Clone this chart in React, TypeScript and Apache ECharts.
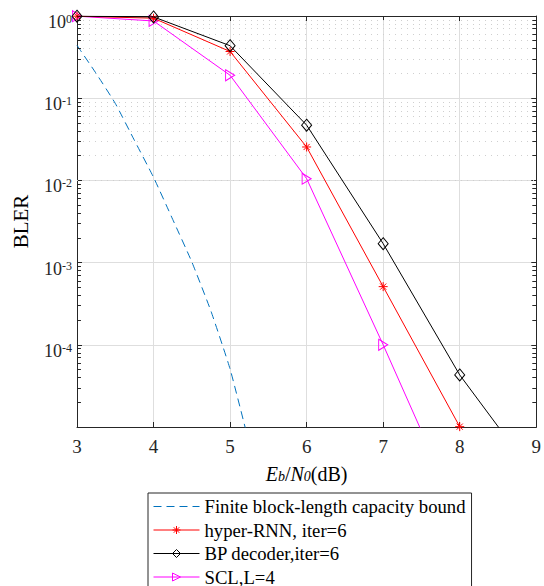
import React, { useEffect, useRef } from 'react';
import * as echarts from 'echarts';

// ---- data ----
const boundX = [3, 3.25, 3.5, 3.75, 4, 4.25, 4.5, 4.75, 5, 5.25];
const boundBler = [0.44, 0.2, 0.0865, 0.0307, 0.0109, 3.36e-3, 1.02e-3, 2.57e-4, 5.07e-5, 6.3e-6];
const rnnX = [3, 4, 5, 6, 7, 8];
const rnnBler = [0.995, 0.94, 0.37, 0.0255, 5.1e-4, 1.01e-5];
const bpX = [3, 4, 5, 6, 7, 8, 9];
const bpBler = [0.995, 0.975, 0.435, 0.047, 1.7e-3, 4.3e-5, 2.4e-6];
const sclX = [3, 4, 5, 6, 7, 8];
const sclBler = [0.995, 0.87, 0.19, 0.0105, 1.0e-4, 8e-7];

const seriesNames = [
  'Finite block-length capacity bound',
  'hyper-RNN, iter=6',
  'BP decoder,iter=6',
  'SCL,L=4',
];
const xMin = 3;
const xMax = 9;
const yMin = 1e-5;
const yMax = 1;
const minorMantissas = [2, 3, 4, 5, 6, 7, 8, 9];
const minorDecades = [-5, -4, -3, -2, -1];

const FONT = '"Liberation Serif", "Times New Roman", serif';
const AXIS = '#262626';

const zip = (xs: number[], ys: number[]) => xs.map((x, i) => [x, ys[i]]);

const starPath = 'path://M5 0L5 10M0 5L10 5M1.6 1.6L8.4 8.4M8.4 1.6L1.6 8.4';
const triPath = 'path://M0 0L10 5L0 10Z';

export default function App() {
  const ref = useRef<HTMLDivElement>(null);
  useEffect(() => {
    if (!ref.current) return;
    const chart = echarts.init(ref.current, null, { renderer: 'svg' });

    const minorValues: number[] = [];
    minorDecades.forEach((k) => minorMantissas.forEach((m) => minorValues.push(m * Math.pow(10, k))));
    const tickLen = 4 / 77.5;
    const gridLines = minorValues.map((v) => ({ yAxis: v }));
    const tickSegs: any[] = [];
    minorValues.forEach((v) => {
      tickSegs.push([{ coord: [xMin, v] }, { coord: [xMin + tickLen, v] }]);
      tickSegs.push([{ coord: [xMax - tickLen, v] }, { coord: [xMax, v] }]);
    });

    const yLabel = (v: number) => {
      if (v < yMin * 1.5) return '';
      const e = Math.round(Math.log10(v));
      return '{b|10}{e|' + e + '}';
    };

    chart.setOption({
      animation: false,
      backgroundColor: '#fff',
      grid: { left: 77, right: 2, top: 16, bottom: 159, containLabel: false },
      legend: {
        data: [
          { name: seriesNames[0], itemStyle: { opacity: 0 } },
          seriesNames[1],
          seriesNames[2],
          seriesNames[3],
        ],
        orient: 'vertical',
        left: 148,
        top: 493,
        height: 110,
        padding: [4, 6, 5, 5],
        itemGap: 4.5,
        itemWidth: 46,
        itemHeight: 10,
        borderColor: AXIS,
        borderWidth: 1,
        backgroundColor: '#fff',
        itemStyle: { color: 'none', borderWidth: 1 },
        lineStyle: { width: 1 },
        textStyle: { fontFamily: FONT, fontSize: 18.7, color: '#000' },
      },
      xAxis: [
        {
          type: 'value',
          min: xMin,
          max: xMax,
          interval: 1,
          name: '{i|E}{s|b}{n|/}{i|N}{s|0}{n|(dB)}',
          nameLocation: 'middle',
          nameGap: 29,
          nameTextStyle: {
            rich: {
              i: { fontFamily: FONT, fontSize: 20, fontStyle: 'italic', color: '#000', verticalAlign: 'top', lineHeight: 20 },
              n: { fontFamily: FONT, fontSize: 20, color: '#000', verticalAlign: 'top', lineHeight: 20 },
              s: { fontFamily: FONT, fontSize: 14, fontStyle: 'italic', color: '#000', verticalAlign: 'bottom', lineHeight: 14, padding: [9, 0, 0, 0] },
            },
          },
          axisLine: { show: true, onZero: false, lineStyle: { color: AXIS, width: 1 } },
          axisTick: { show: true, inside: true, length: 5, lineStyle: { color: AXIS } },
          axisLabel: { fontFamily: FONT, fontSize: 19, color: AXIS, margin: 10 },
          splitLine: { show: true, lineStyle: { color: '#dedede', width: 1 } },
        },
        {
          type: 'value',
          position: 'top',
          min: xMin,
          max: xMax,
          interval: 1,
          axisLine: { show: true, onZero: false, lineStyle: { color: AXIS, width: 1 } },
          axisTick: { show: true, inside: true, length: 5, lineStyle: { color: AXIS } },
          axisLabel: { show: false },
          splitLine: { show: false },
        },
      ],
      yAxis: [
        {
          type: 'log',
          logBase: 10,
          min: yMin,
          max: yMax,
          splitNumber: 5,
          name: 'BLER',
          nameLocation: 'middle',
          nameRotate: 90,
          nameGap: 46,
          nameTextStyle: { fontFamily: FONT, fontSize: 21, color: '#000' },
          axisLine: { show: true, onZero: false, lineStyle: { color: AXIS, width: 1 } },
          axisTick: { show: true, inside: true, length: 5, lineStyle: { color: AXIS } },
          axisLabel: {
            formatter: yLabel,
            margin: 5,
            padding: [12, 0, 0, 0],
            rich: {
              b: { fontFamily: FONT, fontSize: 18, color: AXIS, verticalAlign: 'bottom', lineHeight: 18 },
              e: { fontFamily: FONT, fontSize: 12, color: AXIS, verticalAlign: 'top', lineHeight: 12, padding: [0, 0, 8, 0] },
            },
          },
          splitLine: { show: true, lineStyle: { color: '#dedede', width: 1 } },
        },
        {
          type: 'log',
          logBase: 10,
          min: yMin,
          max: yMax,
          splitNumber: 5,
          position: 'right',
          axisLine: { show: true, onZero: false, lineStyle: { color: AXIS, width: 1 } },
          axisTick: { show: true, inside: true, length: 5, lineStyle: { color: AXIS } },
          axisLabel: { show: false },
          splitLine: { show: false },
        },
      ],
      series: [
        {
          name: seriesNames[0],
          type: 'line',
          data: zip(boundX, boundBler),
          showSymbol: false,
          symbol: 'none',
          smooth: 0.15,
          z: 3,
          lineStyle: { color: '#0072BD', width: 1, type: [8, 5] },
          itemStyle: { color: '#0072BD' },
          markLine: {
            silent: true,
            symbol: ['none', 'none'],
            label: { show: false },
            lineStyle: { color: '#cfcfcf', width: 1, type: [1, 5] },
            data: gridLines,
            z: 1,
          },
        },
        {
          name: seriesNames[1],
          type: 'line',
          data: zip(rnnX, rnnBler),
          symbol: starPath,
          symbolSize: 9,
          showAllSymbol: true,
          z: 4,
          lineStyle: { color: '#ff0000', width: 1 },
          itemStyle: { color: 'none', borderColor: '#ff0000', borderWidth: 1 },
        },
        {
          name: seriesNames[2],
          type: 'line',
          data: zip(bpX, bpBler),
          symbol: 'diamond',
          symbolSize: [10, 12],
          showAllSymbol: true,
          z: 5,
          lineStyle: { color: '#000000', width: 1 },
          itemStyle: { color: 'none', borderColor: '#000000', borderWidth: 1 },
          markLine: {
            silent: true,
            symbol: ['none', 'none'],
            label: { show: false },
            lineStyle: { color: AXIS, width: 1, type: 'solid' },
            data: tickSegs,
          },
        },
        {
          name: seriesNames[3],
          type: 'line',
          data: zip(sclX, sclBler),
          symbol: triPath,
          symbolSize: [9, 11],
          showAllSymbol: true,
          z: 3,
          lineStyle: { color: '#ff00ff', width: 1 },
          itemStyle: { color: 'none', borderColor: '#ff00ff', borderWidth: 1 },
        },
      ],
    });
    return () => chart.dispose();
  }, []);
  return (
    <div
      ref={ref}
      style={{ position: 'fixed', left: 0, top: 0, width: 544, height: 586, background: '#fff' }}
    />
  );
}
